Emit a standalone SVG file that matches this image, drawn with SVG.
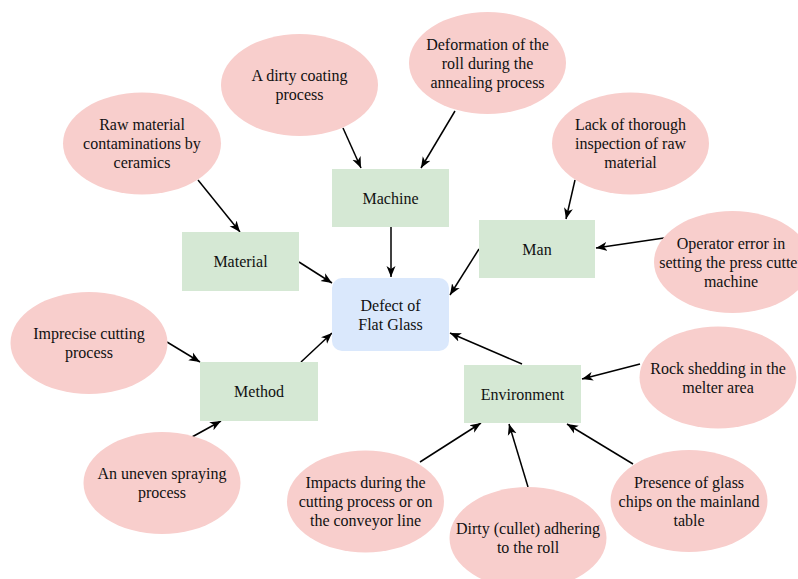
<svg xmlns="http://www.w3.org/2000/svg" width="798" height="579" viewBox="0 0 798 579">
<style>
.cause{fill:#f8cecc;}
.cat{fill:#d5e8d4;}
.main{fill:#dae8fc;}
text{font-family:"Liberation Serif","Times New Roman",serif;font-size:16px;fill:#111;text-anchor:middle;}
.edge{stroke:#000;stroke-width:1.5;fill:none;marker-end:url(#arr);}
</style>
<defs>
<marker id="arr" markerUnits="userSpaceOnUse" markerWidth="12" markerHeight="10" viewBox="0 0 12 10" refX="11" refY="5" orient="auto">
<path d="M0,0.5 L11,5 L0,9.5 L3,5 z" fill="#000"/>
</marker>
</defs>
<rect width="798" height="579" fill="#fff"/>
<g id="connectors">
<line class="edge" x1="198" y1="180" x2="240" y2="232"/>
<line class="edge" x1="343" y1="128" x2="361" y2="168"/>
<line class="edge" x1="455" y1="111" x2="421" y2="168"/>
<line class="edge" x1="391" y1="227" x2="391" y2="277"/>
<line class="edge" x1="299" y1="262" x2="332" y2="283"/>
<line class="edge" x1="575" y1="180" x2="566" y2="219"/>
<line class="edge" x1="664" y1="238" x2="596" y2="248"/>
<line class="edge" x1="479" y1="249" x2="450" y2="295"/>
<line class="edge" x1="167" y1="342" x2="200" y2="362"/>
<line class="edge" x1="192" y1="437" x2="221" y2="421"/>
<line class="edge" x1="301" y1="362" x2="332" y2="333"/>
<line class="edge" x1="522" y1="364" x2="450" y2="333"/>
<line class="edge" x1="640" y1="364" x2="582" y2="379"/>
<line class="edge" x1="420" y1="462" x2="481" y2="423"/>
<line class="edge" x1="528" y1="487" x2="509" y2="424"/>
<line class="edge" x1="633" y1="464" x2="567" y2="424"/>
</g>
<g id="defect"><rect class="main" x="332" y="278" width="117" height="73" rx="10"/><text x="390.5" y="310.5">Defect of</text><text x="390.5" y="329.5">Flat Glass</text></g>
<g id="machine"><rect class="cat" x="332" y="169" width="117" height="58"/><text x="390.5" y="203.5">Machine</text></g>
<g id="material"><rect class="cat" x="182" y="232" width="117" height="59"/><text x="240.5" y="267">Material</text></g>
<g id="man"><rect class="cat" x="479" y="220" width="116" height="58"/><text x="537" y="254.5">Man</text></g>
<g id="method"><rect class="cat" x="200" y="362" width="118" height="59"/><text x="259" y="397">Method</text></g>
<g id="environment"><rect class="cat" x="464" y="365" width="117" height="58"/><text x="522.5" y="399.5">Environment</text></g>
<g id="raw"><ellipse class="cause" cx="142" cy="143.5" rx="79" ry="51"/><text x="142" y="130">Raw material</text><text x="142" y="149">contaminations by</text><text x="142" y="168">ceramics</text></g>
<g id="coating"><ellipse class="cause" cx="299.5" cy="85" rx="78.5" ry="51"/><text x="299.5" y="81">A dirty coating</text><text x="299.5" y="100">process</text></g>
<g id="deformation"><ellipse class="cause" cx="487.5" cy="63" rx="78.5" ry="51"/><text x="487.5" y="49.5">Deformation of the</text><text x="487.5" y="68.5">roll during the</text><text x="487.5" y="87.5">annealing process</text></g>
<g id="lack"><ellipse class="cause" cx="630.5" cy="143.5" rx="78.5" ry="51"/><text x="630.5" y="130">Lack of thorough</text><text x="630.5" y="149">inspection of raw</text><text x="630.5" y="168">material</text></g>
<g id="operator"><ellipse class="cause" cx="732.5" cy="262" rx="78.5" ry="51"/><text x="731" y="248.5">Operator error in</text><text x="731" y="267.5">setting the press cutter</text><text x="731" y="286.5">machine</text></g>
<g id="imprecise"><ellipse class="cause" cx="89" cy="343" rx="78.5" ry="51"/><text x="89" y="339">Imprecise cutting</text><text x="89" y="358">process</text></g>
<g id="uneven"><ellipse class="cause" cx="162" cy="483" rx="78.5" ry="51"/><text x="162" y="479">An uneven spraying</text><text x="162" y="498">process</text></g>
<g id="impacts"><ellipse class="cause" cx="365.5" cy="501.5" rx="78.5" ry="51"/><text x="365.5" y="488">Impacts during the</text><text x="365.5" y="507">cutting process or on</text><text x="365.5" y="526">the conveyor line</text></g>
<g id="cullet"><ellipse class="cause" cx="528" cy="538" rx="78.5" ry="51"/><text x="528" y="534">Dirty (cullet) adhering</text><text x="528" y="553">to the roll</text></g>
<g id="presence"><ellipse class="cause" cx="689" cy="501" rx="78.5" ry="51"/><text x="689" y="487.5">Presence of glass</text><text x="689" y="506.5">chips on the mainland</text><text x="689" y="525.5">table</text></g>
<g id="rock"><ellipse class="cause" cx="718" cy="377.5" rx="78.5" ry="51"/><text x="718" y="373.5">Rock shedding in the</text><text x="718" y="392.5">melter area</text></g>
</svg>
